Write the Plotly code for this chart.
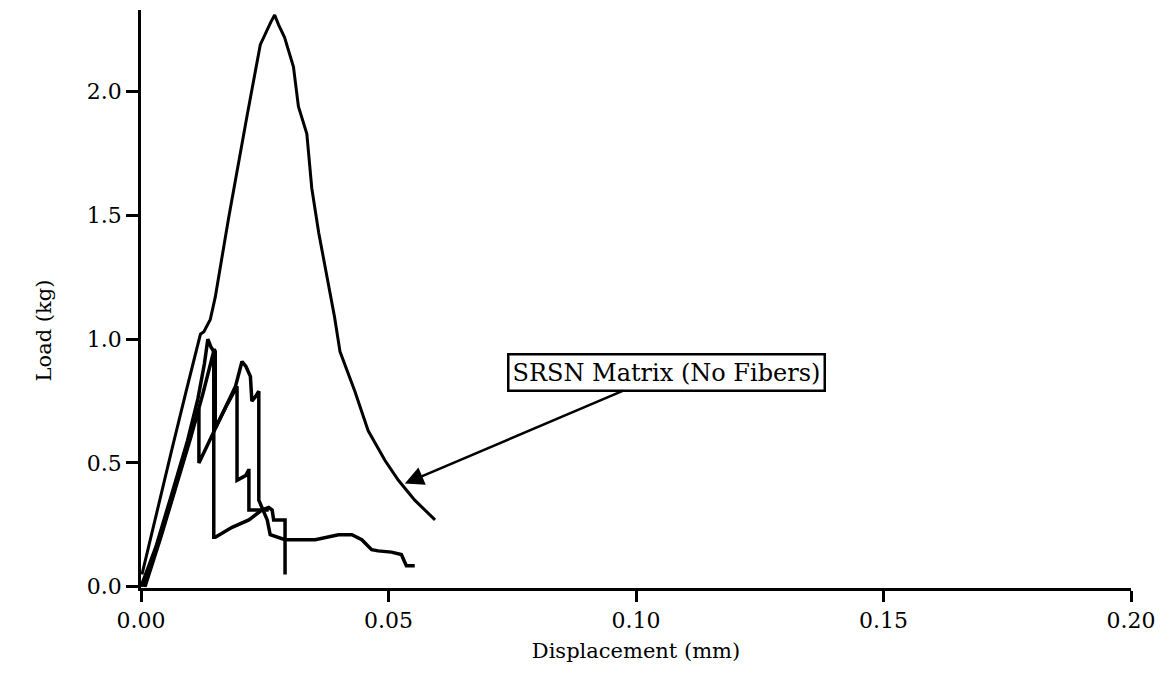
import plotly.graph_objects as go

# SRSN matrix (no fibers) curve
a_x = [0.0002, 0.003, 0.0063, 0.009, 0.012, 0.0127, 0.0140, 0.0150, 0.0177, 0.0214, 0.0241,
       0.0262, 0.0270, 0.0278, 0.0290, 0.0308, 0.0318, 0.0335, 0.0345, 0.0359, 0.0372, 0.0391,
       0.0402, 0.0432, 0.0459, 0.0493, 0.0520, 0.0553, 0.0594]
a_y = [0.05, 0.29, 0.56, 0.78, 1.02, 1.03, 1.08, 1.17, 1.49, 1.90, 2.19,
       2.28, 2.31, 2.27, 2.22, 2.10, 1.94, 1.83, 1.61, 1.43, 1.29, 1.09,
       0.95, 0.79, 0.63, 0.51, 0.43, 0.35, 0.27]

# composite specimen 1
b_x = [0.0, 0.003, 0.006, 0.0094, 0.0115, 0.0128, 0.0135, 0.0141, 0.0147, 0.0147, 0.0150,
       0.0184, 0.0218, 0.0244, 0.0258, 0.0265, 0.0268, 0.0288, 0.0291, 0.0291]
b_y = [0.0, 0.16, 0.36, 0.59, 0.76, 0.90, 1.00, 0.97, 0.95, 0.20, 0.20,
       0.24, 0.27, 0.31, 0.32, 0.31, 0.27, 0.27, 0.27, 0.05]

# composite specimen 2
c_x = [0.0005, 0.003, 0.006, 0.009, 0.0113, 0.0117, 0.0117, 0.0150, 0.0175, 0.0191, 0.0204,
       0.0212, 0.0221, 0.0224, 0.0232, 0.0238, 0.0238, 0.0245, 0.0255, 0.0261, 0.0275, 0.0291,
       0.0318, 0.0352, 0.0399, 0.0426, 0.0446, 0.0466, 0.0479, 0.0506, 0.0526, 0.0536, 0.0553]
c_y = [0.0, 0.15, 0.34, 0.55, 0.70, 0.72, 0.50, 0.64, 0.74, 0.81, 0.91,
       0.89, 0.85, 0.75, 0.77, 0.79, 0.35, 0.32, 0.27, 0.21, 0.20, 0.19,
       0.19, 0.19, 0.21, 0.21, 0.19, 0.15, 0.145, 0.14, 0.13, 0.085, 0.085]

# composite specimen 3
d_x = [0.0008, 0.004, 0.007, 0.010, 0.0125, 0.0140, 0.0148, 0.0150, 0.0150, 0.0175, 0.0194,
       0.0194, 0.0205, 0.0212, 0.0217, 0.0218, 0.0218, 0.0235, 0.0258]
d_y = [0.0, 0.20, 0.40, 0.60, 0.78, 0.90, 0.96, 0.95, 0.64, 0.74, 0.81,
       0.43, 0.44, 0.45, 0.47, 0.47, 0.31, 0.31, 0.31]

x_ticks = [0.00, 0.05, 0.10, 0.15, 0.20]
x_labels = ["0.00", "0.05", "0.10", "0.15", "0.20"]
y_ticks = [0.0, 0.5, 1.0, 1.5, 2.0]
y_labels = ["0.0", "0.5", "1.0", "1.5", "2.0"]

FONT = "DejaVu Serif"

fig = go.Figure()
for xs, ys, w in [(a_x, a_y, 3), (b_x, b_y, 3.5), (c_x, c_y, 3.5), (d_x, d_y, 3.5)]:
    fig.add_trace(go.Scatter(x=xs, y=ys, mode="lines",
                             line=dict(color="black", width=w),
                             showlegend=False, hoverinfo="skip"))

fig.add_annotation(x=0.0533, y=0.417, xref="x", yref="y",
                   ax=0.1061, ay=0.866, axref="x", ayref="y",
                   text="SRSN Matrix (No Fibers)", showarrow=True,
                   arrowhead=2, arrowsize=1.5, arrowwidth=2.5, arrowcolor="black",
                   font=dict(family=FONT, size=24, color="black"),
                   bordercolor="black", borderwidth=2.5, borderpad=3,
                   bgcolor="white")

fig.add_annotation(x=30, y=330, xref="paper", yref="paper",
                   text="Load (kg)", showarrow=False, textangle=-90,
                   font=dict(family=FONT, size=21, color="black"))

fig.update_layout(
    width=1165, height=694,
    margin=dict(l=141, r=30, t=10, b=106),
    paper_bgcolor="white", plot_bgcolor="white",
    font=dict(family=FONT, size=22, color="black"),
    xaxis=dict(range=[0, 0.2], tickvals=x_ticks, ticktext=x_labels,
               showline=True, linecolor="black", linewidth=2.5,
               ticks="outside", ticklen=11, tickwidth=2.5, tickcolor="black",
               showgrid=False, zeroline=False,
               title=dict(text="Displacement (mm)", font=dict(family=FONT, size=21), standoff=12)),
    yaxis=dict(range=[-0.005, 2.33], tickvals=y_ticks, ticktext=y_labels,
               showline=True, linecolor="black", linewidth=2.5,
               ticks="outside", ticklen=12, tickwidth=2.5, tickcolor="black",
               showgrid=False, zeroline=False),
)

# convert y-title annotation position from pixels to paper coords
plot_w = 1165 - 141 - 30
plot_h = 694 - 10 - 106
fig.layout.annotations[1].x = (30 - 141) / plot_w
fig.layout.annotations[1].y = (694 - 106 - 330) / plot_h

fig.write_html("out.html")
